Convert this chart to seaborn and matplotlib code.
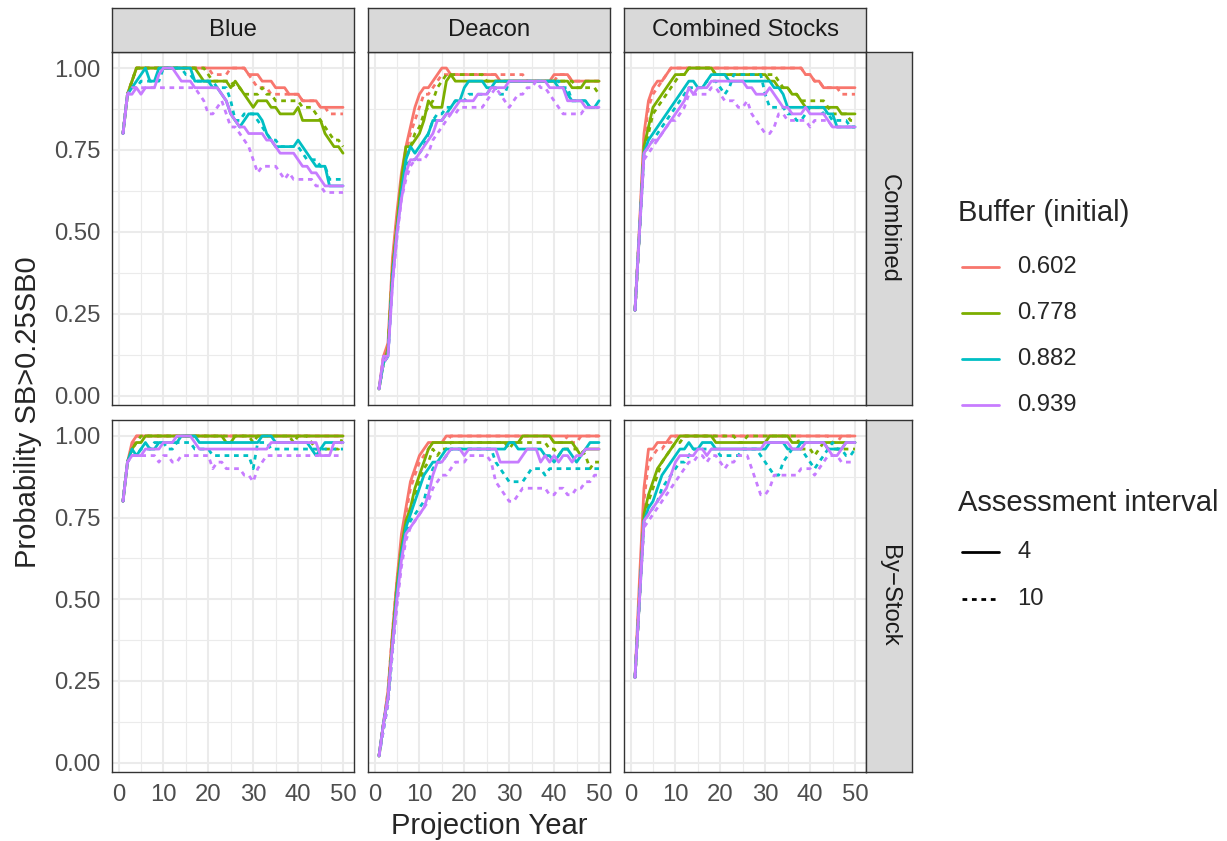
import pandas as pd
import matplotlib
matplotlib.use("Agg")
import matplotlib.pyplot as plt
from matplotlib.lines import Line2D
import seaborn as sns

# ---------------------------------------------------------------------------
# Categories
# ---------------------------------------------------------------------------
YEARS = list(range(1, 51))
STOCKS = ["Blue", "Deacon", "Combined Stocks"]
RULES = ["Combined", "By\u2212Stock"]
BUFFERS = ["0.602", "0.778", "0.882", "0.939"]
INTERVALS = ["4", "10"]
PALETTE = ["#F8766D", "#7CAE00", "#00BFC4", "#C77CFF"]
Y_TICKS = [0.0, 0.25, 0.50, 0.75, 1.0]
Y_TICK_LABELS = ["0.00", "0.25", "0.50", "0.75", "1.00"]
X_TICKS = [0, 10, 20, 30, 40, 50]

# ---------------------------------------------------------------------------
# Probability SB > 0.25 SB0 (in percent), one list per projection year 1..50
# ---------------------------------------------------------------------------
# Blue stock, combined harvest rule
blue_comb_602_4 = [80, 92, 96, 100, 100, 100, 100, 100, 100, 100,
                   100, 100, 100, 100, 100, 100, 100, 100, 100, 100,
                   100, 100, 100, 100, 100, 100, 100, 100, 98, 98,
                   98, 96, 96, 96, 94, 94, 94, 92, 92, 92,
                   90, 90, 90, 90, 88, 88, 88, 88, 88, 88]
blue_comb_602_10 = [80, 92, 96, 100, 100, 100, 100, 100, 100, 100,
                    100, 100, 100, 100, 100, 100, 100, 100, 100, 100,
                    98, 98, 98, 98, 100, 100, 100, 100, 98, 96,
                    94, 94, 94, 92, 92, 92, 92, 92, 92, 92,
                    90, 90, 90, 90, 88, 88, 86, 86, 86, 86]
blue_comb_778_4 = [80, 92, 96, 100, 100, 100, 100, 100, 100, 100,
                   100, 100, 100, 100, 100, 100, 100, 98, 96, 96,
                   96, 96, 96, 96, 94, 96, 94, 92, 90, 88,
                   90, 90, 90, 88, 88, 86, 86, 86, 86, 88,
                   84, 84, 84, 84, 84, 80, 78, 76, 76, 74]
blue_comb_778_10 = [80, 92, 96, 100, 100, 100, 100, 100, 100, 100,
                    100, 100, 100, 100, 100, 100, 100, 100, 100, 98,
                    96, 96, 96, 96, 96, 94, 94, 92, 92, 92,
                    92, 94, 92, 92, 90, 90, 90, 90, 90, 90,
                    88, 88, 88, 86, 84, 82, 80, 78, 78, 76]
blue_comb_882_4 = [80, 92, 94, 96, 98, 100, 96, 96, 100, 100,
                   100, 100, 100, 100, 100, 100, 96, 96, 96, 96,
                   94, 94, 92, 90, 86, 84, 82, 84, 86, 86,
                   86, 84, 80, 78, 76, 76, 76, 76, 76, 78,
                   76, 74, 72, 70, 70, 70, 64, 64, 64, 64]
blue_comb_882_10 = [80, 92, 94, 94, 96, 96, 96, 96, 96, 100,
                    100, 100, 100, 100, 98, 98, 96, 96, 96, 96,
                    96, 94, 94, 94, 90, 84, 84, 86, 86, 86,
                    84, 82, 80, 78, 78, 76, 76, 76, 76, 76,
                    74, 72, 72, 72, 70, 70, 66, 66, 66, 66]
blue_comb_939_4 = [80, 92, 92, 94, 92, 94, 94, 94, 98, 100,
                   100, 100, 98, 96, 96, 96, 94, 94, 94, 94,
                   94, 94, 92, 90, 86, 84, 82, 82, 80, 80,
                   80, 80, 78, 78, 76, 74, 74, 74, 74, 72,
                   70, 70, 68, 68, 66, 64, 64, 64, 64, 64]
blue_comb_939_10 = [80, 92, 94, 94, 94, 94, 94, 94, 94, 94,
                    94, 94, 94, 94, 94, 94, 94, 92, 90, 86,
                    86, 88, 90, 86, 82, 82, 80, 78, 76, 72,
                    68, 70, 70, 70, 70, 68, 66, 68, 66, 66,
                    66, 66, 66, 64, 64, 62, 62, 62, 62, 62]

# Blue stock, by-stock harvest rule
blue_bys_602_4 = [80, 92, 98, 100, 100, 100, 100, 100, 100, 100,
                  100, 100, 100, 100, 100, 100, 100, 100, 100, 100,
                  100, 100, 100, 100, 100, 100, 100, 100, 100, 100,
                  100, 100, 100, 100, 100, 100, 100, 100, 100, 100,
                  100, 100, 100, 100, 100, 100, 100, 100, 100, 100]
blue_bys_602_10 = [80, 92, 96, 100, 100, 100, 100, 100, 100, 100,
                   100, 100, 100, 100, 100, 100, 100, 100, 100, 100,
                   100, 100, 100, 100, 100, 100, 100, 100, 100, 100,
                   100, 100, 100, 100, 100, 100, 100, 100, 100, 100,
                   100, 100, 100, 100, 100, 100, 100, 100, 100, 100]
blue_bys_778_4 = [80, 92, 96, 98, 98, 100, 100, 100, 100, 100,
                  100, 100, 100, 100, 100, 100, 100, 100, 100, 100,
                  100, 100, 100, 98, 98, 100, 100, 100, 100, 100,
                  100, 100, 100, 100, 100, 100, 100, 100, 100, 100,
                  100, 100, 100, 100, 100, 100, 100, 100, 100, 100]
blue_bys_778_10 = [80, 92, 96, 98, 100, 100, 100, 100, 100, 100,
                   100, 100, 100, 100, 100, 100, 100, 100, 100, 100,
                   100, 100, 100, 100, 100, 100, 100, 100, 100, 98,
                   100, 100, 100, 100, 100, 100, 100, 100, 98, 100,
                   100, 100, 98, 96, 96, 96, 96, 96, 96, 100]
blue_bys_882_4 = [80, 92, 96, 94, 96, 98, 96, 96, 98, 98,
                  98, 98, 98, 100, 100, 100, 100, 98, 98, 98,
                  98, 98, 98, 98, 98, 98, 98, 98, 98, 98,
                  98, 100, 100, 100, 98, 98, 98, 98, 98, 98,
                  98, 98, 96, 94, 96, 98, 98, 98, 98, 98]
blue_bys_882_10 = [80, 92, 94, 94, 96, 96, 96, 98, 98, 98,
                   96, 96, 98, 98, 98, 98, 96, 96, 96, 96,
                   94, 94, 94, 94, 94, 94, 94, 94, 94, 90,
                   98, 98, 98, 96, 96, 96, 96, 96, 96, 96,
                   96, 96, 96, 96, 96, 96, 96, 96, 96, 96]
blue_bys_939_4 = [80, 92, 94, 94, 94, 96, 96, 96, 96, 98,
                  98, 98, 100, 100, 100, 100, 98, 96, 96, 96,
                  96, 96, 96, 96, 96, 96, 96, 96, 96, 96,
                  96, 96, 96, 98, 98, 98, 98, 98, 98, 98,
                  98, 98, 98, 98, 94, 94, 94, 98, 98, 98]
blue_bys_939_10 = [80, 92, 94, 94, 94, 94, 94, 94, 92, 94,
                   94, 92, 92, 94, 94, 94, 94, 94, 94, 94,
                   90, 92, 92, 90, 90, 90, 90, 88, 88, 86,
                   90, 92, 94, 94, 94, 94, 94, 94, 94, 94,
                   94, 94, 94, 94, 94, 94, 94, 94, 94, 94]

# Deacon stock, combined harvest rule
deac_comb_602_4 = [2, 12, 16, 42, 56, 68, 76, 82, 88, 92,
                   94, 94, 96, 98, 100, 100, 98, 98, 98, 98,
                   98, 98, 98, 98, 98, 98, 98, 96, 96, 96,
                   96, 96, 96, 96, 96, 96, 96, 96, 96, 98,
                   98, 98, 98, 96, 96, 96, 96, 96, 96, 96]
deac_comb_602_10 = [2, 12, 14, 40, 54, 66, 74, 80, 84, 88,
                    92, 92, 94, 96, 98, 98, 98, 98, 98, 98,
                    98, 98, 98, 98, 98, 98, 98, 98, 98, 98,
                    98, 98, 98, 96, 96, 96, 96, 96, 96, 96,
                    98, 98, 98, 96, 96, 96, 96, 96, 96, 96]
deac_comb_778_4 = [2, 10, 14, 38, 52, 66, 76, 76, 78, 80,
                   84, 90, 88, 88, 88, 96, 98, 96, 96, 96,
                   96, 96, 96, 96, 96, 96, 96, 96, 96, 96,
                   96, 96, 96, 96, 96, 96, 96, 96, 96, 96,
                   96, 96, 96, 94, 94, 94, 96, 96, 96, 96]
deac_comb_778_10 = [2, 10, 14, 38, 52, 64, 72, 76, 80, 82,
                    86, 88, 90, 94, 96, 98, 98, 98, 98, 98,
                    98, 98, 98, 98, 96, 96, 96, 96, 96, 96,
                    96, 96, 96, 96, 96, 96, 96, 96, 96, 96,
                    96, 96, 96, 96, 94, 94, 94, 94, 94, 92]
deac_comb_882_4 = [2, 10, 12, 36, 50, 62, 72, 76, 74, 76,
                   78, 80, 84, 84, 84, 86, 88, 90, 90, 94,
                   96, 96, 96, 96, 94, 94, 96, 96, 96, 96,
                   96, 96, 96, 96, 96, 96, 96, 96, 96, 96,
                   94, 94, 92, 90, 90, 90, 90, 88, 88, 90]
deac_comb_882_10 = [2, 10, 12, 36, 50, 62, 70, 72, 72, 74,
                    76, 80, 84, 86, 86, 88, 88, 90, 90, 90,
                    92, 92, 92, 92, 92, 94, 94, 92, 92, 96,
                    96, 96, 96, 96, 96, 96, 96, 96, 96, 96,
                    96, 94, 94, 90, 90, 90, 90, 88, 88, 88]
deac_comb_939_4 = [2, 12, 12, 34, 50, 60, 68, 72, 72, 74,
                   76, 78, 80, 84, 84, 86, 86, 88, 90, 90,
                   90, 90, 92, 92, 92, 94, 94, 94, 94, 96,
                   96, 96, 96, 96, 96, 96, 96, 96, 94, 94,
                   94, 94, 90, 90, 90, 90, 88, 88, 88, 88]
deac_comb_939_10 = [2, 10, 12, 34, 48, 60, 66, 70, 72, 72,
                    72, 74, 78, 80, 82, 84, 86, 86, 88, 88,
                    88, 88, 88, 88, 90, 92, 94, 92, 90, 88,
                    90, 92, 92, 94, 94, 96, 94, 94, 92, 90,
                    88, 86, 86, 86, 86, 86, 88, 88, 88, 88]

# Deacon stock, by-stock harvest rule
deac_bys_602_4 = [2, 12, 22, 40, 56, 70, 78, 86, 90, 94,
                  96, 98, 98, 98, 98, 100, 100, 100, 100, 100,
                  100, 100, 100, 100, 100, 100, 100, 100, 100, 100,
                  100, 100, 100, 100, 100, 100, 100, 100, 100, 100,
                  100, 100, 100, 100, 100, 100, 100, 100, 100, 100]
deac_bys_602_10 = [2, 12, 22, 40, 56, 68, 76, 84, 88, 92,
                   94, 96, 98, 98, 98, 98, 100, 100, 100, 100,
                   100, 100, 100, 100, 100, 100, 100, 100, 100, 100,
                   100, 100, 100, 100, 100, 100, 100, 100, 100, 98,
                   98, 98, 100, 98, 98, 100, 100, 100, 100, 100]
deac_bys_778_4 = [2, 12, 20, 38, 54, 66, 74, 78, 84, 88,
                  92, 96, 98, 98, 98, 98, 98, 98, 98, 98,
                  98, 98, 98, 98, 98, 98, 98, 98, 98, 98,
                  98, 98, 100, 100, 100, 100, 100, 100, 100, 98,
                  98, 98, 98, 98, 96, 94, 96, 96, 96, 96]
deac_bys_778_10 = [2, 12, 20, 38, 52, 64, 72, 76, 82, 86,
                   90, 92, 96, 94, 96, 96, 98, 98, 98, 98,
                   98, 98, 98, 98, 98, 98, 98, 98, 98, 96,
                   98, 98, 98, 98, 98, 98, 98, 98, 96, 96,
                   94, 96, 96, 96, 96, 96, 94, 90, 92, 92]
deac_bys_882_4 = [2, 12, 20, 36, 52, 64, 72, 76, 80, 84,
                  88, 90, 92, 92, 94, 96, 96, 96, 96, 96,
                  96, 96, 96, 96, 96, 96, 96, 96, 96, 98,
                  98, 96, 96, 96, 96, 96, 96, 94, 94, 92,
                  94, 96, 96, 94, 92, 94, 96, 98, 98, 98]
deac_bys_882_10 = [2, 10, 18, 34, 50, 62, 70, 74, 76, 78,
                   80, 86, 90, 92, 92, 94, 96, 96, 96, 96,
                   96, 96, 96, 96, 96, 96, 92, 90, 88, 86,
                   86, 86, 86, 88, 90, 90, 90, 88, 90, 90,
                   90, 90, 90, 90, 90, 90, 90, 90, 90, 90]
deac_bys_939_4 = [2, 12, 20, 36, 50, 62, 70, 72, 74, 76,
                  78, 82, 88, 92, 92, 94, 96, 96, 96, 94,
                  96, 96, 96, 96, 96, 96, 96, 92, 92, 92,
                  92, 92, 94, 96, 96, 96, 92, 94, 92, 94,
                  92, 94, 94, 92, 94, 94, 96, 96, 96, 96]
deac_bys_939_10 = [2, 10, 18, 34, 48, 60, 68, 72, 74, 76,
                   78, 80, 84, 86, 88, 88, 90, 92, 92, 92,
                   94, 94, 94, 94, 94, 92, 86, 84, 82, 80,
                   80, 82, 84, 84, 84, 84, 84, 84, 82, 82,
                   84, 84, 82, 82, 84, 84, 86, 86, 88, 88]

# Combined stocks, combined harvest rule
both_comb_602_4 = [26, 52, 80, 90, 94, 96, 96, 98, 100, 100,
                   100, 100, 100, 100, 100, 100, 100, 100, 100, 100,
                   100, 100, 100, 100, 100, 100, 100, 100, 100, 100,
                   100, 100, 100, 100, 100, 100, 100, 100, 98, 98,
                   96, 96, 94, 94, 94, 94, 94, 94, 94, 94]
both_comb_602_10 = [26, 50, 78, 88, 92, 94, 96, 98, 100, 100,
                    100, 100, 100, 100, 100, 100, 100, 100, 100, 100,
                    100, 100, 100, 100, 100, 100, 100, 100, 100, 100,
                    100, 100, 100, 100, 100, 100, 100, 100, 98, 98,
                    96, 96, 94, 94, 94, 94, 92, 92, 92, 92]
both_comb_778_4 = [26, 50, 76, 82, 88, 90, 92, 94, 96, 98,
                   98, 98, 100, 100, 100, 100, 100, 100, 98, 98,
                   98, 98, 98, 98, 98, 98, 98, 98, 98, 98,
                   96, 96, 94, 94, 94, 92, 92, 90, 88, 88,
                   88, 88, 88, 88, 88, 88, 86, 86, 86, 86]
both_comb_778_10 = [26, 50, 74, 80, 86, 88, 90, 92, 94, 96,
                    98, 98, 100, 100, 100, 100, 100, 100, 98, 98,
                    98, 98, 98, 98, 98, 98, 98, 98, 98, 98,
                    98, 98, 96, 94, 94, 92, 92, 90, 90, 90,
                    90, 90, 90, 88, 86, 86, 86, 86, 84, 84]
both_comb_882_4 = [26, 50, 74, 78, 80, 82, 84, 86, 88, 90,
                   92, 94, 96, 96, 94, 94, 96, 98, 98, 98,
                   98, 96, 96, 96, 96, 96, 96, 96, 96, 96,
                   96, 94, 94, 92, 88, 88, 88, 88, 88, 88,
                   88, 88, 88, 86, 86, 82, 82, 82, 82, 82]
both_comb_882_10 = [26, 50, 74, 76, 78, 80, 82, 84, 86, 88,
                    90, 92, 94, 94, 94, 94, 96, 96, 96, 94,
                    92, 94, 98, 98, 98, 98, 98, 98, 98, 92,
                    88, 88, 88, 88, 86, 86, 84, 84, 86, 88,
                    88, 88, 86, 86, 84, 84, 84, 84, 82, 82]
both_comb_939_4 = [26, 50, 74, 76, 78, 78, 80, 82, 84, 86,
                   88, 90, 94, 92, 94, 94, 94, 96, 96, 96,
                   96, 96, 96, 96, 96, 94, 94, 92, 92, 92,
                   94, 92, 90, 88, 88, 86, 86, 86, 88, 86,
                   86, 86, 86, 84, 82, 82, 82, 82, 82, 82]
both_comb_939_10 = [26, 50, 72, 74, 76, 78, 80, 82, 84, 84,
                    86, 88, 92, 92, 92, 92, 92, 94, 94, 92,
                    90, 90, 90, 88, 88, 90, 86, 84, 82, 80,
                    80, 82, 86, 86, 84, 84, 84, 84, 84, 82,
                    84, 84, 84, 84, 82, 82, 82, 82, 82, 82]

# Combined stocks, by-stock harvest rule
both_bys_602_4 = [26, 56, 84, 96, 96, 98, 98, 98, 100, 100,
                  100, 100, 100, 100, 100, 100, 100, 100, 100, 100,
                  100, 100, 100, 100, 100, 100, 100, 100, 100, 100,
                  100, 100, 100, 100, 100, 100, 100, 100, 100, 100,
                  100, 100, 100, 100, 100, 100, 100, 100, 100, 100]
both_bys_602_10 = [26, 52, 80, 92, 94, 96, 96, 98, 98, 100,
                   100, 100, 100, 100, 100, 100, 100, 100, 100, 100,
                   100, 100, 100, 100, 100, 100, 100, 100, 100, 100,
                   100, 100, 100, 100, 100, 100, 100, 100, 100, 100,
                   100, 100, 100, 100, 98, 98, 100, 100, 100, 100]
both_bys_778_4 = [26, 50, 76, 82, 86, 90, 92, 94, 96, 98,
                  100, 100, 100, 100, 100, 100, 100, 100, 98, 98,
                  98, 98, 98, 98, 98, 98, 98, 98, 98, 98,
                  100, 100, 100, 100, 100, 98, 98, 98, 98, 98,
                  98, 98, 98, 98, 98, 98, 98, 98, 98, 98]
both_bys_778_10 = [26, 50, 74, 80, 84, 88, 92, 94, 96, 98,
                   98, 100, 100, 100, 100, 100, 100, 100, 100, 100,
                   100, 100, 100, 98, 98, 100, 100, 100, 100, 100,
                   100, 100, 100, 100, 100, 100, 100, 96, 96, 96,
                   94, 96, 98, 96, 96, 96, 96, 96, 96, 96]
both_bys_882_4 = [26, 50, 74, 78, 80, 84, 88, 90, 92, 94,
                  96, 96, 98, 96, 96, 98, 98, 98, 96, 96,
                  96, 96, 96, 96, 96, 96, 96, 96, 96, 96,
                  98, 98, 98, 98, 96, 96, 96, 98, 98, 98,
                  98, 98, 98, 96, 96, 96, 96, 98, 98, 98]
both_bys_882_10 = [26, 50, 74, 76, 78, 80, 84, 86, 88, 90,
                   92, 92, 94, 96, 96, 96, 96, 96, 96, 94,
                   94, 94, 94, 94, 96, 96, 96, 96, 94, 92,
                   90, 88, 88, 92, 94, 96, 96, 96, 94, 92,
                   90, 92, 94, 96, 98, 96, 96, 94, 94, 96]
both_bys_939_4 = [26, 50, 74, 76, 78, 80, 82, 84, 88, 92,
                  94, 94, 94, 94, 96, 96, 94, 96, 96, 96,
                  96, 96, 96, 96, 96, 96, 96, 96, 96, 98,
                  98, 98, 98, 98, 98, 96, 96, 96, 98, 98,
                  98, 98, 98, 96, 94, 94, 96, 98, 98, 98]
both_bys_939_10 = [26, 50, 72, 74, 76, 78, 80, 82, 84, 86,
                   88, 90, 92, 92, 94, 94, 92, 94, 94, 92,
                   90, 92, 92, 94, 94, 94, 90, 86, 82, 82,
                   84, 88, 88, 88, 88, 88, 88, 90, 90, 90,
                   88, 90, 92, 94, 94, 94, 92, 92, 92, 92]

SERIES = {
    ("Blue", "Combined"): [blue_comb_602_4, blue_comb_602_10, blue_comb_778_4, blue_comb_778_10,
                           blue_comb_882_4, blue_comb_882_10, blue_comb_939_4, blue_comb_939_10],
    ("Blue", "By\u2212Stock"): [blue_bys_602_4, blue_bys_602_10, blue_bys_778_4, blue_bys_778_10,
                                blue_bys_882_4, blue_bys_882_10, blue_bys_939_4, blue_bys_939_10],
    ("Deacon", "Combined"): [deac_comb_602_4, deac_comb_602_10, deac_comb_778_4, deac_comb_778_10,
                             deac_comb_882_4, deac_comb_882_10, deac_comb_939_4, deac_comb_939_10],
    ("Deacon", "By\u2212Stock"): [deac_bys_602_4, deac_bys_602_10, deac_bys_778_4, deac_bys_778_10,
                                  deac_bys_882_4, deac_bys_882_10, deac_bys_939_4, deac_bys_939_10],
    ("Combined Stocks", "Combined"): [both_comb_602_4, both_comb_602_10, both_comb_778_4, both_comb_778_10,
                                      both_comb_882_4, both_comb_882_10, both_comb_939_4, both_comb_939_10],
    ("Combined Stocks", "By\u2212Stock"): [both_bys_602_4, both_bys_602_10, both_bys_778_4, both_bys_778_10,
                                           both_bys_882_4, both_bys_882_10, both_bys_939_4, both_bys_939_10],
}

rows = []
for (stock, rule), series in SERIES.items():
    combos = [(b, i) for b in BUFFERS for i in INTERVALS]
    for (buf, interval), vals in zip(combos, series):
        for yr, v in zip(YEARS, vals):
            rows.append({"stock": stock, "rule": rule, "buffer": buf,
                         "interval": interval, "year": yr, "prob": v / 100.0})
df = pd.DataFrame(rows)

# ---------------------------------------------------------------------------
# Styling
# ---------------------------------------------------------------------------
sns.set_style("white")
plt.rcParams["font.family"] = ["Liberation Sans", "DejaVu Sans"]

W, H = 1227, 841
fig = plt.figure(figsize=(W / 100, H / 100), dpi=100)
fig.patch.set_facecolor("white")


def rect(x0, y0, x1, y1):
    return [x0 / W, 1 - y1 / H, (x1 - x0) / W, (y1 - y0) / H]


COLS = [(112, 354), (368, 610), (624, 866)]
ROWS = [(52, 405), (420, 772)]
STRIP_TOP = (8, 52)
STRIP_RIGHT = (866, 912)

BORDER = "#333333"
GRID = "#EBEBEB"
TICK_TXT = "#4D4D4D"
STRIP_BG = "#D9D9D9"
SMALL = 17.2
LARGE = 21.0
LW = 2.0
DASH = (1.7, 1.7)

for r, rule in enumerate(RULES):
    for c, stock in enumerate(STOCKS):
        ax = fig.add_axes(rect(COLS[c][0], ROWS[r][0], COLS[c][1], ROWS[r][1]))
        sub = df[(df["stock"] == stock) & (df["rule"] == rule)]
        sns.lineplot(data=sub, x="year", y="prob", hue="buffer", style="interval",
                     hue_order=BUFFERS, style_order=INTERVALS, palette=PALETTE,
                     dashes={"4": "", "10": DASH}, linewidth=LW, legend=False,
                     estimator=None, errorbar=None, ax=ax)
        ax.set_xlim(-1.45, 52.45)
        ax.set_ylim(-0.029, 1.049)
        ax.set_xticks(X_TICKS)
        ax.set_xticks([5, 15, 25, 35, 45], minor=True)
        ax.set_yticks(Y_TICKS)
        ax.set_yticks([0.125, 0.375, 0.625, 0.875], minor=True)
        ax.grid(which="major", color=GRID, linewidth=1.5)
        ax.grid(which="minor", color=GRID, linewidth=0.8)
        ax.set_axisbelow(True)
        ax.set_xlabel("")
        ax.set_ylabel("")
        for sp in ax.spines.values():
            sp.set_color(BORDER)
            sp.set_linewidth(1.0)
        ax.tick_params(which="minor", length=0)
        ax.tick_params(which="major", color=BORDER, width=1.0, length=5,
                       labelsize=SMALL, labelcolor=TICK_TXT, pad=3.5)
        if c == 0:
            ax.set_yticklabels(Y_TICK_LABELS)
        else:
            ax.tick_params(axis="y", which="major", length=0, labelleft=False)
        if r == 1:
            ax.set_xticklabels([str(t) for t in X_TICKS])
        else:
            ax.tick_params(axis="x", which="major", length=0, labelbottom=False)

# facet strips
for c, stock in enumerate(STOCKS):
    sax = fig.add_axes(rect(COLS[c][0], STRIP_TOP[0], COLS[c][1], STRIP_TOP[1]))
    sax.set_facecolor(STRIP_BG)
    sax.set_xticks([])
    sax.set_yticks([])
    for sp in sax.spines.values():
        sp.set_color(BORDER)
        sp.set_linewidth(1.0)
    sax.text(0.5, 0.5, stock, ha="center", va="center", size=SMALL,
             color="#1A1A1A", transform=sax.transAxes)

for r, rule in enumerate(RULES):
    sax = fig.add_axes(rect(STRIP_RIGHT[0], ROWS[r][0], STRIP_RIGHT[1], ROWS[r][1]))
    sax.set_facecolor(STRIP_BG)
    sax.set_xticks([])
    sax.set_yticks([])
    for sp in sax.spines.values():
        sp.set_color(BORDER)
        sp.set_linewidth(1.0)
    sax.text(0.5, 0.5, rule, ha="center", va="center", size=SMALL, rotation=-90,
             color="#1A1A1A", transform=sax.transAxes)

# axis titles
fig.text(489 / W, 1 - 826 / H, "Projection Year", ha="center", va="center", size=LARGE)
fig.text(28 / W, 1 - 412 / H, "Probability SB>0.25SB0", ha="center", va="center",
         size=LARGE, rotation=90)


# legends
def fx(x):
    return x / W


def fy(y):
    return 1 - y / H


fig.text(fx(958), fy(213), "Buffer (initial)", ha="left", va="center", size=LARGE)
for k, (buf, col) in enumerate(zip(BUFFERS, PALETTE)):
    y = 267 + 46 * k
    fig.add_artist(Line2D([fx(962), fx(999)], [fy(y), fy(y)], color=col, lw=LW,
                          transform=fig.transFigure))
    fig.text(fx(1017), fy(y), buf, ha="left", va="center", size=SMALL)

fig.text(fx(958), fy(503), "Assessment interval", ha="left", va="center", size=LARGE)
for k, interval in enumerate(INTERVALS):
    y = 552 + 47 * k
    ln = Line2D([fx(962), fx(999)], [fy(y), fy(y)], color="black", lw=LW,
                transform=fig.transFigure)
    if interval == "10":
        ln.set_dashes(DASH)
    fig.add_artist(ln)
    fig.text(fx(1017), fy(y), interval, ha="left", va="center", size=SMALL)

fig.savefig("out.png", dpi=100, facecolor="white")
